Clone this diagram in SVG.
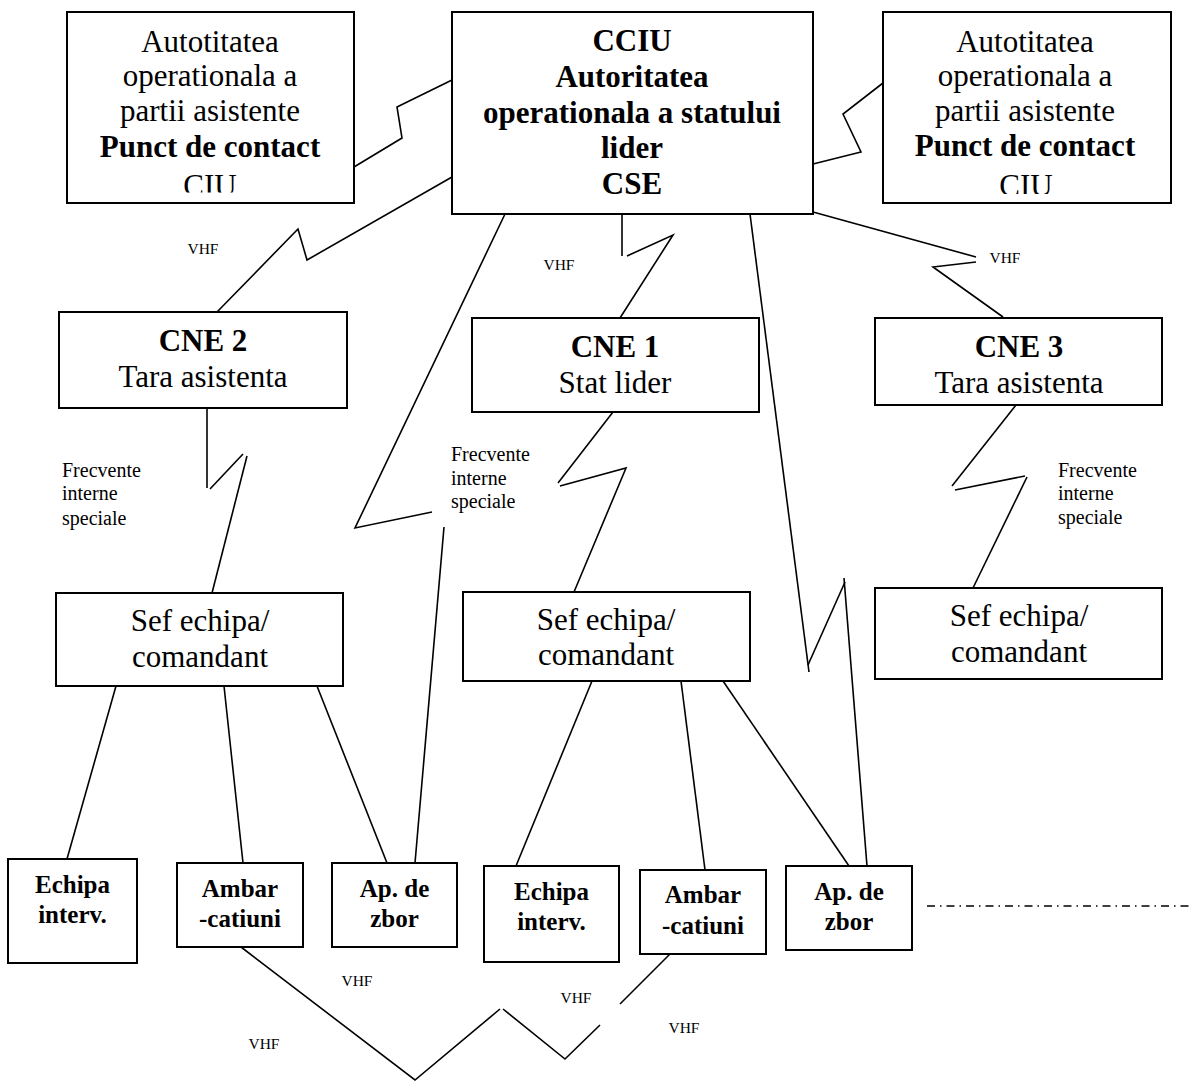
<svg xmlns="http://www.w3.org/2000/svg" width="1191" height="1082" viewBox="0 0 1191 1082">
<style>
.box{fill:#fff;stroke:#000;stroke-width:2}
.t{font-family:"Liberation Serif","Times New Roman",serif;font-size:31px;fill:#000;text-anchor:middle}
.b{font-weight:bold}
.s{font-family:"Liberation Serif","Times New Roman",serif;font-weight:bold;font-size:25px;fill:#000;text-anchor:middle}
.lbl{font-family:"Liberation Serif","Times New Roman",serif;font-size:15.5px;fill:#000;text-anchor:middle}
.fr{font-family:"Liberation Serif","Times New Roman",serif;font-size:20px;fill:#000}
.ln{fill:none;stroke:#000;stroke-width:1.6}
</style>
<defs>
<clipPath id="clipL"><rect x="60" y="150" width="300" height="42.5"/></clipPath>
<clipPath id="clipR"><rect x="880" y="150" width="300" height="44"/></clipPath>
</defs>
<rect width="1191" height="1082" fill="#fff"/>
<g id="connectors">
<polyline class="ln" points="354,167 402,138 397,107 452,80"/>
<polyline class="ln" points="452,177 307,260 298,229 217,312"/>
<polyline class="ln" points="813,164 861,152 843,114 883,83"/>
<polyline class="ln" points="505,214 355,528 432,512"/>
<polyline class="ln" points="444,527 415,863"/>
<polyline class="ln" points="622,214 622,256"/>
<polyline class="ln" points="627,256 673,235 620,318"/>
<polyline class="ln" points="750,214 809,672"/>
<polyline class="ln" points="808,665 845,582"/>
<polyline class="ln" points="844,578 867,866"/>
<polyline class="ln" points="813,212 976,257"/>
<polyline class="ln" points="976,262 933,267 1003,317"/>
<polyline class="ln" points="207,408 207,488"/>
<polyline class="ln" points="210,489 243,454"/>
<polyline class="ln" points="247,456 212,593"/>
<polyline class="ln" points="613,412 558,483"/>
<polyline class="ln" points="560,486 626,468 574,592"/>
<polyline class="ln" points="1016,405 952,486"/>
<polyline class="ln" points="955,490 1025,476"/>
<polyline class="ln" points="1027,477 973,588"/>
<line class="ln" x1="116" y1="686" x2="67" y2="859"/>
<line class="ln" x1="224" y1="686" x2="243" y2="863"/>
<line class="ln" x1="317" y1="686" x2="387" y2="863"/>
<line class="ln" x1="592" y1="681" x2="516" y2="866"/>
<line class="ln" x1="681" y1="681" x2="705" y2="870"/>
<line class="ln" x1="723" y1="681" x2="849" y2="866"/>
<polyline class="ln" points="241,947 415,1080 500,1009"/>
<polyline class="ln" points="503,1009 565,1059 600,1025"/>
<polyline class="ln" points="620,1004 670,954"/>
<line x1="927" y1="906" x2="1191" y2="906" stroke="#000" stroke-width="1.4" stroke-dasharray="8 5 1.5 5"/>
</g>
<g id="labels">
<text class="lbl" x="203" y="254">VHF</text>
<text class="lbl" x="559" y="270">VHF</text>
<text class="lbl" x="1005" y="263">VHF</text>
<text class="lbl" x="357" y="986">VHF</text>
<text class="lbl" x="264" y="1049">VHF</text>
<text class="lbl" x="576" y="1003">VHF</text>
<text class="lbl" x="684" y="1033">VHF</text>
<text class="fr" x="62" y="477">Frecvente</text>
<text class="fr" x="62" y="500">interne</text>
<text class="fr" x="62" y="525">speciale</text>
<text class="fr" x="451" y="461">Frecvente</text>
<text class="fr" x="451" y="485">interne</text>
<text class="fr" x="451" y="508">speciale</text>
<text class="fr" x="1058" y="477">Frecvente</text>
<text class="fr" x="1058" y="500">interne</text>
<text class="fr" x="1058" y="524">speciale</text>
</g>
<g id="node-left-authority">
<rect class="box" x="67" y="12" width="287" height="191"/>
<text class="t" x="210" y="52">Autotitatea</text>
<text class="t" x="210" y="86">operationala a</text>
<text class="t" x="210" y="121">partii asistente</text>
<text class="t b" x="210" y="157">Punct de contact</text>
<text class="t" x="210" y="196" clip-path="url(#clipL)">CIU</text>
</g>
<g id="node-cciu">
<rect class="box" x="452" y="12" width="361" height="202"/>
<text class="t b" x="632" y="51">CCIU</text>
<text class="t b" x="632" y="87">Autoritatea</text>
<text class="t b" x="632" y="123">operationala a statului</text>
<text class="t b" x="632" y="158">lider</text>
<text class="t b" x="632" y="194">CSE</text>
</g>
<g id="node-right-authority">
<rect class="box" x="883" y="12" width="288" height="191"/>
<text class="t" x="1025" y="52">Autotitatea</text>
<text class="t" x="1025" y="86">operationala a</text>
<text class="t" x="1025" y="121">partii asistente</text>
<text class="t b" x="1025" y="156">Punct de contact</text>
<text class="t" x="1026" y="196" clip-path="url(#clipR)">CIU</text>
</g>
<g id="node-cne2">
<rect class="box" x="59" y="312" width="288" height="96"/>
<text class="t b" x="203" y="351">CNE 2</text>
<text class="t" x="203" y="387">Tara asistenta</text>
</g>
<g id="node-cne1">
<rect class="box" x="472" y="318" width="287" height="94"/>
<text class="t b" x="615" y="357">CNE 1</text>
<text class="t" x="615" y="393">Stat lider</text>
</g>
<g id="node-cne3">
<rect class="box" x="875" y="318" width="287" height="87"/>
<text class="t b" x="1019" y="357">CNE 3</text>
<text class="t" x="1019" y="393">Tara asistenta</text>
</g>
<g id="node-sef1">
<rect class="box" x="56" y="593" width="287" height="93"/>
<text class="t" x="200" y="631">Sef echipa/</text>
<text class="t" x="200" y="667">comandant</text>
</g>
<g id="node-sef2">
<rect class="box" x="463" y="592" width="287" height="89"/>
<text class="t" x="606" y="630">Sef echipa/</text>
<text class="t" x="606" y="665">comandant</text>
</g>
<g id="node-sef3">
<rect class="box" x="875" y="588" width="287" height="91"/>
<text class="t" x="1019" y="626">Sef echipa/</text>
<text class="t" x="1019" y="662">comandant</text>
</g>
<g id="node-echipa1">
<rect class="box" x="8" y="859" width="129" height="104"/>
<text class="s" x="72.5" y="893">Echipa</text>
<text class="s" x="72.5" y="923">interv.</text>
</g>
<g id="node-ambar1">
<rect class="box" x="177" y="863" width="126" height="84"/>
<text class="s" x="240" y="897">Ambar</text>
<text class="s" x="240" y="927">-catiuni</text>
</g>
<g id="node-ap1">
<rect class="box" x="332" y="863" width="125" height="84"/>
<text class="s" x="394.5" y="897">Ap. de</text>
<text class="s" x="394.5" y="927">zbor</text>
</g>
<g id="node-echipa2">
<rect class="box" x="484" y="866" width="135" height="96"/>
<text class="s" x="551.5" y="900">Echipa</text>
<text class="s" x="551.5" y="930">interv.</text>
</g>
<g id="node-ambar2">
<rect class="box" x="640" y="870" width="126" height="84"/>
<text class="s" x="703" y="903">Ambar</text>
<text class="s" x="703" y="934">-catiuni</text>
</g>
<g id="node-ap2">
<rect class="box" x="786" y="866" width="126" height="84"/>
<text class="s" x="849" y="900">Ap. de</text>
<text class="s" x="849" y="930">zbor</text>
</g>
</svg>
